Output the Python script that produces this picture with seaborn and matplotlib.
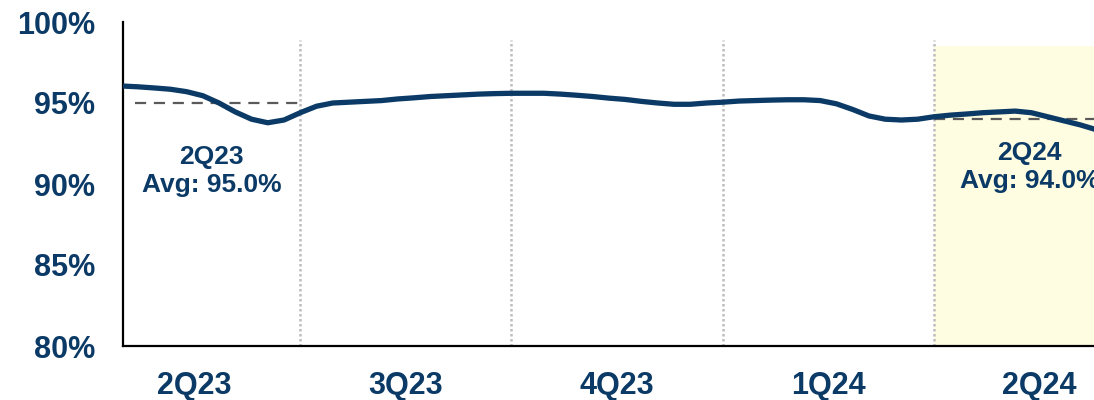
import matplotlib
matplotlib.use("Agg")
import matplotlib.pyplot as plt
import pandas as pd
import seaborn as sns

# Weekly utilization rate (%), week 0 = start of 2Q23, 13 weeks per quarter
weeks = list(range(2, 63))
rate = [96.05, 96.0, 95.93, 95.85, 95.7, 95.45, 95.0, 94.45, 94.0, 93.78,
        93.95, 94.4, 94.8, 95.0, 95.05, 95.1, 95.15, 95.25, 95.32, 95.4,
        95.45, 95.5, 95.55, 95.58, 95.6, 95.6, 95.6, 95.55, 95.48, 95.4,
        95.3, 95.22, 95.1, 95.0, 94.92, 94.92, 95.0, 95.05, 95.12, 95.15,
        95.18, 95.2, 95.2, 95.15, 94.95, 94.6, 94.2, 94.0, 93.95, 94.0,
        94.15, 94.25, 94.32, 94.4, 94.45, 94.5, 94.4, 94.15, 93.9, 93.65,
        93.35]

quarters = ["2Q23", "3Q23", "4Q23", "1Q24", "2Q24"]
avg_labels = ["2Q23", "2Q24"]
avg_values = [95.0, 94.0]
yticks = [80, 85, 90, 95, 100]

WEEKS_PER_Q = 13
NAVY = "#0B3A66"

df = pd.DataFrame({"week": weeks, "rate": rate})

sns.set_theme(style="white")
plt.rcParams["font.family"] = ["Liberation Sans", "DejaVu Sans"]
plt.rcParams["font.weight"] = "bold"

fig = plt.figure(figsize=(10.94, 4.0), dpi=100)
ax = fig.add_axes([123 / 1094, 54 / 400, 1 - 123 / 1094, 324 / 400])

x_left, x_right = 2.09, 61.85
ax.set_xlim(x_left, x_right)
ax.set_ylim(80, 100)

# highlighted current quarter
ax.fill_between([4 * WEEKS_PER_Q, 5 * WEEKS_PER_Q], 80, 98.5,
                color="#FFFDE1", zorder=0, linewidth=0)

# quarter separators
for q in range(1, 5):
    ax.plot([q * WEEKS_PER_Q] * 2, [80, 98.9], color="#BDBDBD",
            linestyle=(0, (1, 1)), linewidth=1.8, zorder=1)

# quarter averages
ax.plot([2.83, 13], [avg_values[0]] * 2, color="#5A5A5A",
        linestyle=(0, (5, 3.5)), linewidth=1.6, zorder=2)
ax.plot([52, 63], [avg_values[1]] * 2, color="#5A5A5A",
        linestyle=(0, (5, 3.5)), linewidth=1.6, zorder=2)

sns.lineplot(data=df, x="week", y="rate", ax=ax, color=NAVY,
             linewidth=3.8, zorder=3, solid_joinstyle="round",
             solid_capstyle="butt")

ax.text(7.54, 90.8, f"{avg_labels[0]}\nAvg: {avg_values[0]:.1f}%",
        ha="center", va="center", fontsize=19, fontweight="bold",
        color=NAVY, linespacing=1.2)
ax.text(57.9, 91.05, f"{avg_labels[1]}\nAvg: {avg_values[1]:.1f}%",
        ha="center", va="center", fontsize=19, fontweight="bold",
        color=NAVY, linespacing=1.2, clip_on=False)

ax.set_yticks(yticks)
ax.set_yticklabels([f"{v}%" for v in yticks])
ax.set_xticks([(i + 0.5) * WEEKS_PER_Q for i in range(len(quarters))])
ax.set_xticklabels(quarters)
ax.tick_params(axis="both", length=0, labelsize=22, labelcolor=NAVY)
ax.tick_params(axis="y", pad=20)
ax.tick_params(axis="x", pad=18)
for lbl in ax.get_xticklabels() + ax.get_yticklabels():
    lbl.set_fontweight("bold")

ax.set_xlabel("")
ax.set_ylabel("")
for side in ["top", "right"]:
    ax.spines[side].set_visible(False)
for side in ["left", "bottom"]:
    ax.spines[side].set_color("black")
    ax.spines[side].set_linewidth(1.6)
ax.grid(False)

fig.savefig("out.png", dpi=100)
